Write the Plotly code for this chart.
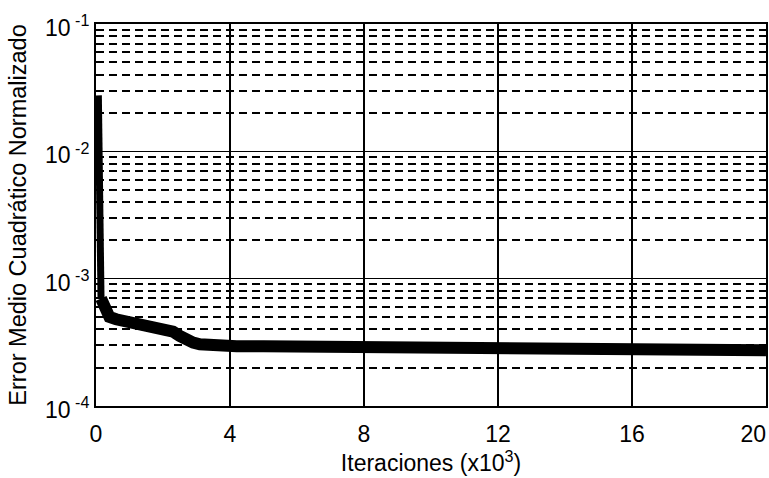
import plotly.graph_objects as go

# iterations (x10^3) and normalised MSE
iter_drop = [0.07, 0.08, 0.10, 0.12, 0.15]
mse_drop = [2.75e-2, 1.0e-2, 3.0e-3, 1.2e-3, 7.0e-4]

iter_tail = [0.15, 0.25, 0.4, 0.6, 0.8, 1.0, 1.3, 1.6, 1.8, 2.0, 2.3, 2.5, 2.7, 2.9,
             3.1, 3.4, 3.8, 4.2, 5, 6, 7, 8, 9, 10, 11, 12, 13, 14, 15, 16, 17, 18, 19, 20]
mse_tail = [7.0e-4, 5.7e-4, 5.0e-4, 4.8e-4, 4.66e-4, 4.55e-4, 4.43e-4, 4.3e-4, 4.19e-4,
            4.05e-4, 3.83e-4, 3.55e-4, 3.3e-4, 3.15e-4, 3.05e-4, 3.0e-4, 2.97e-4, 2.95e-4,
            2.94e-4, 2.92e-4, 2.9e-4, 2.88e-4, 2.86e-4, 2.87e-4, 2.85e-4, 2.86e-4, 2.85e-4,
            2.83e-4, 2.81e-4, 2.8e-4, 2.79e-4, 2.74e-4, 2.75e-4, 2.74e-4]

x_ticks = [0, 4, 8, 12, 16, 20]
x_tick_text = ["0", "4", "8", "12", "16", "20\u00a0\u00a0\u00a0\u00a0"]
y_major = [1e-4, 1e-3, 1e-2, 1e-1]
y_major_text = ["10<sup> -4</sup>", "10<sup> -3</sup>", "10<sup> -2</sup>", "10<sup> -1</sup>"]
y_minor = [m * d for d in (1e-4, 1e-3, 1e-2) for m in range(2, 10)]

FONT = "Liberation Sans, Arial, sans-serif"

fig = go.Figure()
fig.add_trace(go.Scatter(x=iter_drop, y=mse_drop, mode="lines",
                         line=dict(color="black", width=7), showlegend=False))
fig.add_trace(go.Scatter(x=iter_tail, y=mse_tail, mode="lines",
                         line=dict(color="black", width=12), showlegend=False))

fig.update_layout(
    width=769, height=478,
    margin=dict(l=96, r=3, t=24, b=72, autoexpand=False),
    paper_bgcolor="white", plot_bgcolor="white",
    font=dict(family=FONT, size=23, color="black"),
    xaxis=dict(
        range=[0, 20], tickvals=x_ticks, ticktext=x_tick_text,
        showgrid=True, gridcolor="black", gridwidth=2,
        showline=True, linecolor="black", linewidth=2, mirror=True,
        ticks="", zeroline=False, ticklabelstandoff=6, automargin=False,
        ticklabeloverflow="allow",
        title=dict(text="Iteraciones (x10<sup>3</sup>)", standoff=6,
                   font=dict(size=23)),
    ),
    yaxis=dict(
        type="log", range=[-4, -1], tickvals=y_major, ticktext=y_major_text,
        showgrid=True, gridcolor="black", gridwidth=1,
        showline=True, linecolor="black", linewidth=2, mirror=True,
        ticks="", zeroline=False, ticklabelstandoff=0, automargin=False,
        ticklabelshift=4, ticklabeloverflow="allow",
        minor=dict(tickvals=y_minor, showgrid=True, gridcolor="black",
                   gridwidth=1.6, griddash="8px,5px", ticks=""),
        title=dict(text="Error Medio Cuadrático Normalizado\u00a0\u00a0\u00a0", standoff=12,
                   font=dict(size=23.5)),
    ),
)

fig.write_html(
    "out.html",
    config={"displayModeBar": False},
    post_script="document.body.style.margin='0px';document.body.style.overflow='hidden';",
)
